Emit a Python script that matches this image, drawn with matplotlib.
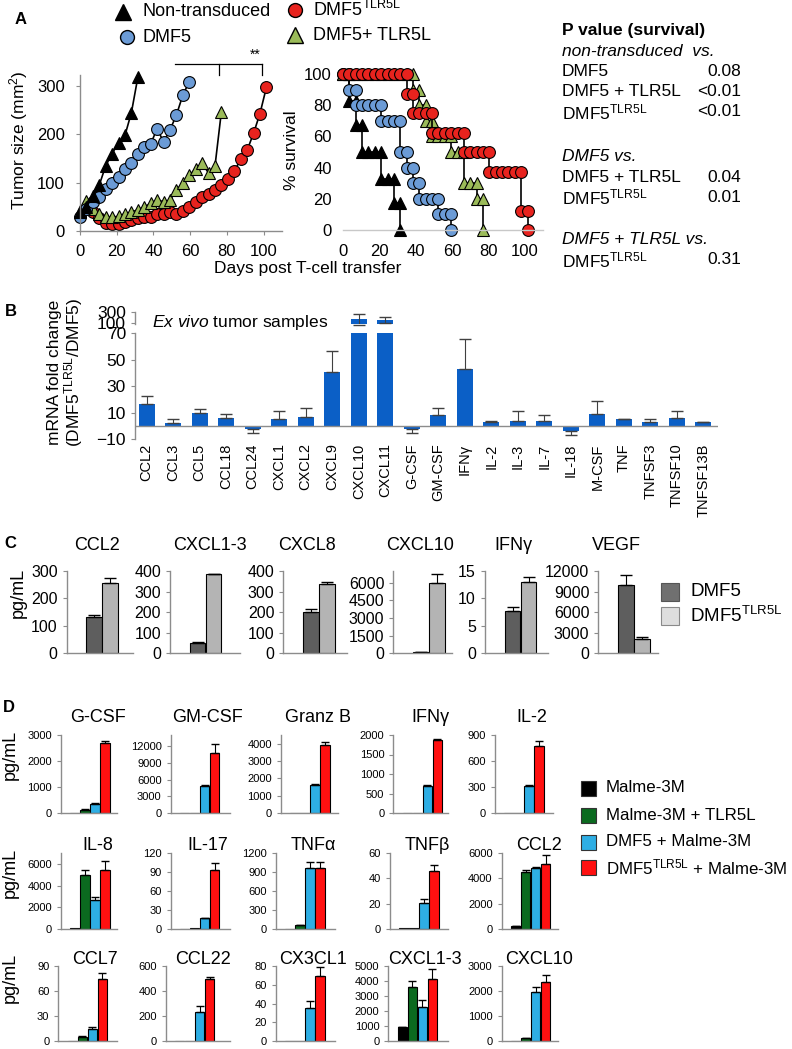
import numpy as np
import matplotlib
matplotlib.use('Agg')
import matplotlib.pyplot as plt
from matplotlib.lines import Line2D
from matplotlib.patches import Rectangle

plt.rcParams['font.family'] = ['Liberation Sans', 'DejaVu Sans']
plt.rcParams['mathtext.fontset'] = 'custom'
plt.rcParams['mathtext.rm'] = 'Liberation Sans'
plt.rcParams['mathtext.it'] = 'Liberation Sans:italic'
plt.rcParams['mathtext.bf'] = 'Liberation Sans:bold'

TLR = r'DMF5$^{\mathrm{TLR5L}}$'

# ---------------- data: panel A, tumour size ----------------
tumor_days_nt = [0, 3.5, 7, 10.5, 14, 17.5, 21, 24.5, 28, 31.5]
tumor_nt = [40, 50, 72, 95, 135, 160, 183, 198, 245, 318]
tumor_days_dmf5 = [0, 3.5, 7, 10.5, 14, 17.5, 21, 24.5, 28, 31.5, 35, 38.5, 42, 45.5,
                   49, 52.5, 56, 59.5]
tumor_dmf5 = [28, 46, 60, 70, 86, 100, 112, 129, 141, 159, 174, 180, 212, 184,
              209, 240, 281, 309]
tumor_days_combo = [0, 3.5, 7, 10.5, 14, 17.5, 21, 24.5, 28, 31.5, 35, 38.5, 42, 45.5,
                    49, 52.5, 56, 59.5, 63, 66.5, 70, 73.5, 77]
tumor_combo = [41, 63, 46, 36, 29, 29, 30, 36, 39, 44, 50, 57, 65, 60,
               64, 84, 100, 115, 129, 140, 120, 134, 247]
tumor_days_tlr = [7, 10.5, 14, 17.5, 21, 24.5, 28, 31.5, 35, 38.5, 42, 45.5, 49, 52.5,
                  56, 59.5, 63, 66.5, 70, 73.5, 77, 80.5, 84, 87.5, 91, 94.5, 98, 101.5]
tumor_tlr = [39, 26, 17, 15, 15, 19, 23, 27, 29, 29, 35, 36, 39, 36,
             41, 50, 60, 70, 77, 84, 95, 108, 124, 148, 167, 202, 243, 297]

# significance bracket (days, mm2)
bracket_x = [52, 75.5, 99]
bracket_y = [345, 323]

# ---------------- data: panel A, survival ----------------
surv_nt_t = [0, 3.5, 3.5, 7, 7, 10.5, 10.5, 14, 17.5, 21, 21, 24.5, 28, 28, 31.5, 31.5]
surv_nt = [100, 100, 83, 83, 67, 67, 50, 50, 50, 50, 33, 33, 33, 17, 17, 0]
surv_dmf5_t = [0, 3.5, 3.5, 7, 7, 10.5, 14, 17.5, 21, 21, 24.5, 28, 31.5, 31.5, 35, 35,
               38.5, 38.5, 42, 42, 45.5, 49, 52.5, 52.5, 56, 59.5, 59.5]
surv_dmf5 = [100, 100, 90, 90, 80, 80, 80, 80, 80, 70, 70, 70, 70, 50, 50, 40,
             40, 30, 30, 20, 20, 20, 20, 10, 10, 10, 0]
surv_combo_t = [0, 3.5, 7, 10.5, 14, 17.5, 21, 24.5, 28, 31.5, 35, 38.5, 38.5, 42, 42,
                45.5, 45.5, 49, 49, 52.5, 56, 59.5, 59.5, 63, 66.5, 66.5, 70, 73.5,
                73.5, 77, 77]
surv_combo = [100, 100, 100, 100, 100, 100, 100, 100, 100, 100, 100, 100, 90, 90, 80,
              80, 70, 70, 60, 60, 60, 60, 50, 50, 50, 30, 30, 30,
              20, 20, 0]
surv_tlr_t = [0, 3.5, 7, 10.5, 14, 17.5, 21, 24.5, 28, 31.5, 35, 35, 38.5, 38.5, 42,
              45.5, 49, 49, 52.5, 56, 59.5, 63, 66.5, 66.5, 70, 73.5, 77, 80.5, 80.5,
              84, 87.5, 91, 94.5, 98, 98, 101.5, 101.5]
surv_tlr = [100, 100, 100, 100, 100, 100, 100, 100, 100, 100, 100, 87.5, 87.5, 75, 75,
            75, 75, 62.5, 62.5, 62.5, 62.5, 62.5, 62.5, 50, 50, 50, 50, 50, 37.5,
            37.5, 37.5, 37.5, 37.5, 37.5, 12.5, 12.5, 0]

pval_rows = [("P value (survival)", "", "bold"),
             ("non-transduced  vs.", "", "italic"),
             ("DMF5", "0.08", "normal"),
             ("DMF5 + TLR5L", "<0.01", "normal"),
             (TLR, "<0.01", "normal"),
             ("DMF5 vs.", "", "italic"),
             ("DMF5 + TLR5L", "0.04", "normal"),
             (TLR, "0.01", "normal"),
             ("DMF5 + TLR5L vs.", "", "italic"),
             (TLR, "0.31", "normal")]

# ---------------- data: panel B ----------------
b_genes = ['CCL2', 'CCL3', 'CCL5', 'CCL18', 'CCL24', 'CXCL1', 'CXCL2', 'CXCL9',
           'CXCL10', 'CXCL11', 'G-CSF', 'GM-CSF', 'IFNγ', 'IL-2', 'IL-3', 'IL-7',
           'IL-18', 'M-CSF', 'TNF', 'TNFSF3', 'TNFSF10', 'TNFSF13B']
b_fold = [17, 2.5, 10, 6, -2.5, 5.5, 7, 41, 173, 160, -2.5, 8.5, 43, 3, 4, 4,
          -3.5, 9, 5, 3, 6, 3]
b_err = [6, 2.5, 3, 3, 2.5, 6, 7, 16, 100, 60, 3, 5, 23, 1, 7, 4, 3.5, 10, 0, 2, 5, 0]

# ---------------- data: panel C ----------------
c_titles = ['CCL2', 'CXCL1-3', 'CXCL8', 'CXCL10', 'IFNγ', 'VEGF']
c_dmf5 = [131, 50, 199, 100, 7.8, 10000]
c_dmf5_err = [10, 3, 17, 30, 0.6, 1450]
c_tlr = [255, 385, 335, 5950, 13, 2030]
c_tlr_err = [18, 2, 10, 770, 0.9, 380]
c_ymax = [300, 400, 400, 7000, 15, 12000]
c_ystep = [100, 100, 100, 1500, 5, 3000]

# ---------------- data: panel D ----------------
d_titles = ['G-CSF', 'GM-CSF', 'Granz B', 'IFNγ', 'IL-2',
            'IL-8', 'IL-17', 'TNFα', 'TNFβ', 'CCL2',
            'CCL7', 'CCL22', 'CX3CL1', 'CXCL1-3', 'CXCL10']
d_groups = ['Malme-3M', 'Malme-3M + TLR5L', 'DMF5 + Malme-3M', TLR + ' + Malme-3M']
d_malme = [0, 0, 0, 0, 0, 60, 0, 5, 0.4, 230, 0.5, 0, 0, 910, 0]
d_malme_tlr = [130, 50, 0, 0, 0, 4930, 1, 63, 0.6, 4500, 5, 0, 0, 3590, 130]
d_dmf5 = [350, 4800, 1620, 700, 313, 2710, 17, 970, 20.4, 4800, 15, 230, 34.8, 2280, 1960]
d_dmf5tlr = [2680, 10800, 3950, 1860, 771, 5400, 93, 965, 45.4, 5100, 74, 496, 69.6, 4130, 2350]
d_malme_err = [0, 0, 0, 0, 0, 0, 0, 0, 0, 20, 0, 0, 0, 30, 0]
d_malme_tlr_err = [10, 0, 0, 0, 0, 500, 0, 5, 0, 120, 0.5, 0, 0, 390, 10]
d_dmf5_err = [30, 150, 40, 15, 10, 240, 1, 90, 3.5, 100, 2, 50, 7.5, 440, 220]
d_dmf5tlr_err = [100, 1500, 120, 50, 60, 850, 11, 100, 5.5, 750, 8, 20, 9, 700, 300]
d_ymax = [3000, 14000, 4500, 2000, 900, 7000, 120, 1200, 60, 6000, 90, 600, 80, 5000, 3000]
d_ystep = [1000, 3000, 1000, 500, 300, 2000, 30, 300, 20, 2000, 30, 200, 20, 1000, 1000]

# ---------------- layout helpers (pixel coordinates, origin top-left) ----------------
W, H = 792, 1049
fig = plt.figure(figsize=(W / 100, H / 100), dpi=100)
AXC = '#8c8c8c'


def px_axes(x0, y0, x1, y1):
    return fig.add_axes([x0 / W, 1 - y1 / H, (x1 - x0) / W, (y1 - y0) / H])


def ftext(x, y, s, **kw):
    kw.setdefault('va', 'center')
    fig.text(x / W, 1 - y / H, s, **kw)


def fmarker(x, y, **kw):
    fig.add_artist(Line2D([x / W], [1 - y / H], transform=fig.transFigure, **kw))


def fsquare(x, y, size, color, ec='#333333'):
    fig.add_artist(Rectangle(((x - size / 2) / W, 1 - (y + size / 2) / H), size / W, size / H,
                             transform=fig.transFigure, facecolor=color, edgecolor=ec, lw=0.8))


def style_axes(ax, fs):
    for s in ['top', 'right']:
        ax.spines[s].set_visible(False)
    for s in ['left', 'bottom']:
        ax.spines[s].set_color(AXC)
        ax.spines[s].set_linewidth(1)
    ax.tick_params(colors=AXC, labelcolor='black', labelsize=fs, length=3, width=0.8)


# ================= panel A =================
C_BLUE, C_RED, C_GREEN = '#6b9bd6', '#e8231e', '#9bbb59'

ax = px_axes(80, 75, 282, 231)
style_axes(ax, 12)
series = [(tumor_days_tlr, tumor_tlr, 'o', C_RED),
          (tumor_days_combo, tumor_combo, '^', C_GREEN),
          (tumor_days_dmf5, tumor_dmf5, 'o', C_BLUE),
          (tumor_days_nt, tumor_nt, '^', 'black')]
for t, v, m, c in series:
    ax.plot(t, v, '-', color='black', lw=1.2, marker=m, ms=8.5, mfc=c, mec='black',
            mew=0.8, clip_on=False)
ax.set_xlim(0, 110)
ax.set_ylim(0, 322.7)
ax.set_xticks([0, 20, 40, 60, 80, 100])
ax.set_yticks([0, 100, 200, 300])
ax.tick_params(axis='y', pad=8)
ax.tick_params(axis='x', pad=6)
ax.plot([bracket_x[0], bracket_x[2]], [bracket_y[0]] * 2, color='black', lw=0.9, clip_on=False)
for bx in bracket_x[1:]:
    ax.plot([bx, bx], bracket_y, color='black', lw=0.9, clip_on=False)
ax.text(95.5, 350, '**', ha='center', va='bottom', fontsize=10)

ax = px_axes(343, 74, 543, 230)
style_axes(ax, 12)
ax.spines['left'].set_visible(False)
ax.spines['bottom'].set_color('#c8c8c8')
series = [(surv_nt_t, surv_nt, '^', 'black'),
          (surv_dmf5_t, surv_dmf5, 'o', C_BLUE),
          (surv_combo_t, surv_combo, '^', C_GREEN),
          (surv_tlr_t, surv_tlr, 'o', C_RED)]
for t, v, m, c in series:
    ax.plot(t, v, '-', color='black', lw=1.2, marker=m, ms=8.5, mfc=c, mec='black',
            mew=0.8, clip_on=False)
ax.set_xlim(0, 110)
ax.set_ylim(0, 100)
ax.set_xticks([0, 20, 40, 60, 80, 100])
ax.set_yticks([0, 20, 40, 60, 80, 100])
ax.tick_params(axis='y', length=0, pad=8)
ax.tick_params(axis='x', length=0, pad=10)

ftext(19, 140, 'Tumor size (mm$^2$)', rotation=90, ha='center', fontsize=12.5)
ftext(292, 150, '% survival', rotation=90, ha='center', fontsize=12.5)
ftext(308, 268, 'Days post T-cell transfer', ha='center', fontsize=12.5)
ftext(21, 20, 'A', fontsize=12, fontweight='bold', ha='center')

# legend of panel A
fmarker(123, 12, marker='^', ms=11, mfc='black', mec='black')
ftext(142, 12, 'Non-transduced', fontsize=13)
fmarker(127, 37, marker='o', ms=10, mfc=C_BLUE, mec='black')
ftext(142, 37, 'DMF5', fontsize=13)
fmarker(295, 10, marker='o', ms=10, mfc=C_RED, mec='black')
ftext(313, 10, TLR, fontsize=13)
fmarker(295, 35, marker='^', ms=11, mfc=C_GREEN, mec='black')
ftext(313, 35, 'DMF5+ TLR5L', fontsize=13)

# p values
pval_y = [30, 52, 72, 92, 112, 157, 177, 197, 240, 260]
for (lab, val, sty), yy in zip(pval_rows, pval_y):
    kw = {'fontweight': 'bold'} if sty == 'bold' else ({'fontstyle': 'italic'} if sty == 'italic' else {})
    ftext(562, yy, lab, fontsize=12.5, **kw)
    if val:
        ftext(741, yy, val, fontsize=12.5, ha='right')

# ================= panel B =================
C_B = '#0b5fc6'
xb = np.arange(len(b_genes))
fold = np.array(b_fold)
err = np.array(b_err)
yerr = [np.where(fold < 0, err, 0), np.where(fold >= 0, err, 0)]

axb = px_axes(135, 333.3, 718, 439.3)
style_axes(axb, 12.5)
axb.spines['bottom'].set_visible(False)
axb.bar(xb, fold, width=0.6, color=C_B)
axb.errorbar(xb, fold, yerr=yerr, fmt='none', ecolor='#404040', elinewidth=0.8, capsize=4)
axb.axhline(0, color=AXC, lw=1)
axb.set_xlim(-0.44, 21.55)
axb.set_ylim(-10, 70)
axb.set_yticks([-10, 10, 30, 50, 70])
axb.set_xticks(xb)
axb.set_xticklabels(b_genes, rotation=90, fontsize=10.5)
axb.tick_params(axis='x', length=0, pad=3)

axt = px_axes(135, 311.7, 718, 324)
style_axes(axt, 12.5)
axt.spines['bottom'].set_visible(False)
axt.bar(xb, fold, width=0.6, color=C_B)
axt.errorbar(xb[fold > 87], fold[fold > 87], yerr=err[fold > 87], fmt='none',
             ecolor='#404040', elinewidth=0.8, capsize=4)
axt.set_xlim(-0.44, 21.55)
axt.set_ylim(87, 310)
axt.set_yticks([100, 300])
axt.set_xticks([])
for ln in axt.lines:
    ln.set_clip_on(False)

ftext(55, 372, 'mRNA fold change', rotation=90, ha='center', fontsize=12.5)
ftext(74, 372, '(' + TLR + '/DMF5)', rotation=90, ha='center', fontsize=12.5)
ftext(152, 323, r'$\mathit{Ex\ vivo}$ tumor samples', fontsize=12.5)
ftext(11, 312, 'B', fontsize=12, fontweight='bold', ha='center')

# ================= panel C =================
C_DK, C_LT = '#5e5e5e', '#b4b4b4'
c_left = [66.7, 170, 283.3, 393.3, 485, 598.3]
c_right = [133.3, 240, 346.7, 451.7, 548.3, 658.3]
c_title_x = [96.7, 210, 306.7, 420, 513.3, 616.7]
for i in range(len(c_titles)):
    ax = px_axes(c_left[i], 571, c_right[i], 653.3)
    style_axes(ax, 11.5)
    ax.bar([27.5, 43.5], [c_dmf5[i], c_tlr[i]], width=15.5, color=[C_DK, C_LT],
           edgecolor='black', lw=0.8)
    ax.errorbar([27.5, 43.5], [c_dmf5[i], c_tlr[i]],
                yerr=[[0, 0], [c_dmf5_err[i], c_tlr_err[i]]], fmt='none',
                ecolor='black', elinewidth=0.8, capsize=4)
    ax.set_xlim(0, c_right[i] - c_left[i])
    ax.set_ylim(0, c_ymax[i])
    ax.set_yticks(np.arange(0, c_ymax[i] + 1, c_ystep[i]))
    ax.set_xticks([])
    ftext(c_title_x[i], 545, c_titles[i], ha='center', fontsize=13)

ftext(18, 593, 'pg/mL', rotation=90, ha='center', fontsize=13)
ftext(10, 543, 'C', fontsize=12, fontweight='bold', ha='center')
fsquare(670, 592, 18, '#707070', ec='#555555')
ftext(690, 592, 'DMF5', fontsize=13.5)
fsquare(670, 616, 18, '#dedede', ec='#8a8a8a')
ftext(690, 616, TLR, fontsize=13.5)

# ================= panel D =================
d_colors = ['#000000', '#0b6a1f', '#2eaee4', '#ff1010']
d_left = [61, 170.7, 281, 393.3, 495, 61, 170.7, 276, 390, 501.7,
          58.3, 165.7, 276, 388.3, 501.7]
d_right = [116.7, 230, 338.3, 448.3, 553.3, 116.7, 230, 335, 448.3, 558.3,
           116.7, 230, 335, 448.3, 558.3]
row_top = [735, 853, 966]
row_bot = [813, 929, 1041]
row_title = [717, 845, 960]
xd = np.array([14, 24, 34, 44])
for i in range(len(d_titles)):
    r = i // 5
    ax = px_axes(d_left[i], row_top[r], d_right[i], row_bot[r])
    style_axes(ax, 8)
    vals = [d_malme[i], d_malme_tlr[i], d_dmf5[i], d_dmf5tlr[i]]
    errs = [d_malme_err[i], d_malme_tlr_err[i], d_dmf5_err[i], d_dmf5tlr_err[i]]
    ax.bar(xd, vals, width=9.5, color=d_colors, edgecolor='black', lw=0.8)
    keep = [k for k in range(4) if errs[k] > 0]
    ax.errorbar(xd[keep], np.array(vals)[keep], yerr=[[0] * len(keep), np.array(errs)[keep]],
                fmt='none', ecolor='black', elinewidth=0.8, capsize=3)
    ax.set_xlim(0, d_right[i] - d_left[i])
    ax.set_ylim(0, d_ymax[i])
    ax.set_yticks(np.arange(0, d_ymax[i] + 1, d_ystep[i]))
    ax.set_xticks([])
    ftext(d_left[i] + 37, row_title[r], d_titles[i], ha='center', fontsize=13)

for yy in [755, 873, 978]:
    ftext(10, yy, 'pg/mL', rotation=90, ha='center', fontsize=13)
ftext(9, 708, 'D', fontsize=12, fontweight='bold', ha='center')
for k, yy in enumerate([788, 815, 842, 867]):
    fsquare(588, yy, 15, d_colors[k])
    ftext(606, yy, d_groups[k], fontsize=12.2)

fig.savefig('out.png', dpi=100)
